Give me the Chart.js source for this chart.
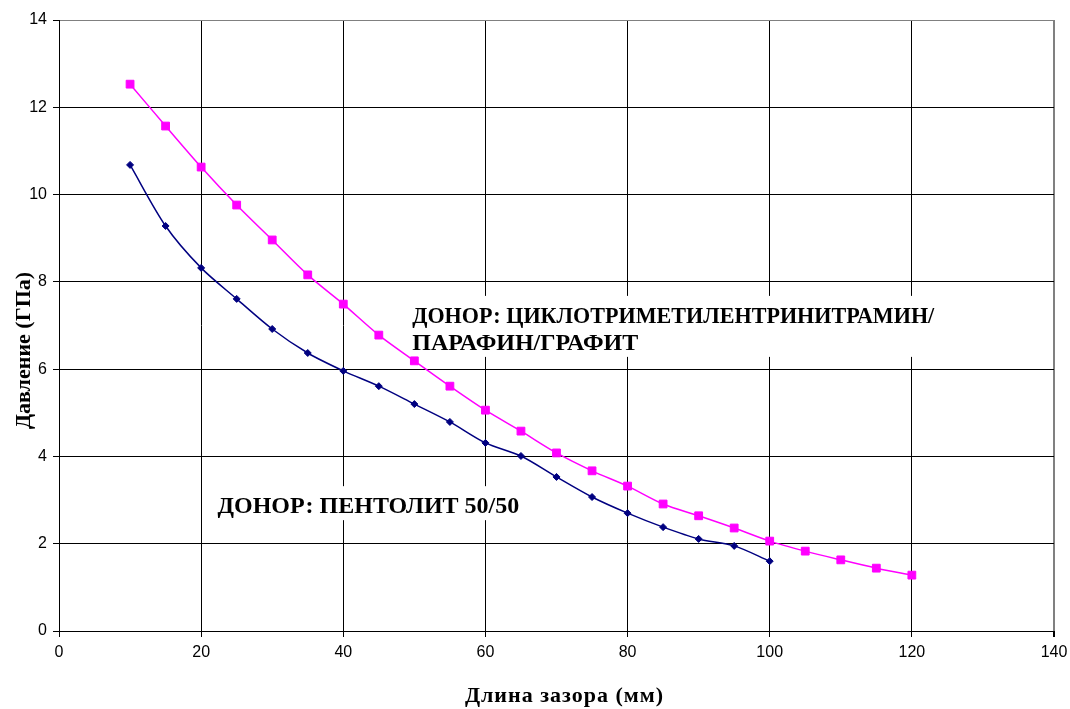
<!DOCTYPE html>
<html>
<head>
<meta charset="utf-8">
<script src="https://cdn.jsdelivr.net/npm/chart.js@4"></script>
<style>
  body { margin: 0; background: #fff; }
</style>
</head>
<body>
<canvas id="chart" width="1070" height="709"></canvas>
<script>
// gap length (mm) and pressure (GPa)
const gapHmx = [10, 15, 20, 25, 30, 35, 40, 45, 50, 55, 60, 65, 70, 75, 80, 85, 90, 95, 100, 105, 110, 115, 120];
const pressureHmx = [12.53, 11.57, 10.63, 9.76, 8.96, 8.16, 7.49, 6.78, 6.19, 5.61, 5.06, 4.58, 4.08, 3.67, 3.32, 2.91, 2.64, 2.36, 2.06, 1.83, 1.63, 1.44, 1.28];

const gapPentolite = [10, 15, 20, 25, 30, 35, 40, 45, 50, 55, 60, 65, 70, 75, 80, 85, 90, 95, 100];
const pressurePentolite = [10.68, 9.28, 8.32, 7.61, 6.92, 6.37, 5.96, 5.61, 5.20, 4.79, 4.31, 4.01, 3.53, 3.07, 2.70, 2.38, 2.11, 1.95, 1.60];

const xTitle = 'Длина зазора (мм)';
const yTitle = 'Давление (ГПа)';

// text labels placed in data units (x, baseline y)
const notes = [
  { lines: ['ДОНОР: ЦИКЛОТРИМЕТИЛЕНТРИНИТРАМИН/', 'ПАРАФИН/ГРАФИТ'], x: 49.7, y: 7.06 },
  { lines: ['ДОНОР: ПЕНТОЛИТ 50/50'], x: 22.3, y: 2.70 }
];

const toPoints = (xs, ys) => xs.map((x, i) => ({ x: x, y: ys[i] }));

const serif = '"Liberation Serif", "Times New Roman", serif';
const sans = '"Liberation Sans", Arial, sans-serif';

// the long first line is set tighter in the original
const lineMaxWidth = 522;

// white boxed notes, drawn over the grid but under the lines
const notesPlugin = {
  id: 'notes',
  beforeDatasetsDraw(chart) {
    const { ctx, scales } = chart;
    ctx.save();
    ctx.font = 'bold 24px ' + serif;
    ctx.textBaseline = 'alphabetic';
    notes.forEach(n => {
      const px = scales.x.getPixelForValue(n.x);
      const py = scales.y.getPixelForValue(n.y);
      const w = Math.min(lineMaxWidth, Math.max(...n.lines.map(l => ctx.measureText(l).width)));
      const h = 27 * (n.lines.length - 1);
      ctx.fillStyle = '#fff';
      ctx.fillRect(px - 8, py - 27, w + 16, h + 34);
      ctx.fillStyle = '#000';
      n.lines.forEach((l, i) => ctx.fillText(l, px, py + i * 27, lineMaxWidth));
    });
    ctx.restore();
  },
  afterDraw(chart) {
    const { ctx, chartArea } = chart;
    ctx.save();
    ctx.fillStyle = '#000';
    ctx.font = 'bold 22px ' + serif;
    ctx.textAlign = 'center';
    ctx.textBaseline = 'alphabetic';
    ctx.letterSpacing = '1px';
    ctx.fillText(xTitle, (chartArea.left + chartArea.right) / 2 + 8, 702);
    ctx.letterSpacing = '0px';
    ctx.translate(30, (chartArea.top + chartArea.bottom) / 2 + 25);
    ctx.rotate(-Math.PI / 2);
    ctx.fillText(yTitle, 0, 0);
    ctx.restore();
  }
};

new Chart(document.getElementById('chart'), {
  type: 'line',
  data: {
    datasets: [
      {
        label: 'Циклотриметилентринитрамин/парафин/графит',
        data: toPoints(gapHmx, pressureHmx),
        borderColor: '#ff00ff',
        backgroundColor: '#ff00ff',
        borderWidth: 1.5,
        pointStyle: 'rect',
        pointRadius: 5.5,
        pointBorderWidth: 1,
        tension: 0.3,
        fill: false
      },
      {
        label: 'Пентолит 50/50',
        data: toPoints(gapPentolite, pressurePentolite),
        borderColor: '#000080',
        backgroundColor: '#000080',
        borderWidth: 1.5,
        pointStyle: 'rectRot',
        pointRadius: 3.5,
        pointBorderWidth: 1,
        tension: 0.3,
        fill: false
      }
    ]
  },
  options: {
    responsive: false,
    animation: false,
    layout: { padding: { top: 20, right: 16, left: 0, bottom: 0 } },
    plugins: {
      legend: { display: false },
      tooltip: { enabled: false }
    },
    scales: {
      x: {
        type: 'linear',
        min: 0,
        max: 140,
        ticks: { stepSize: 20, color: '#000', font: { family: sans, size: 16 }, padding: 6 },
        grid: {
          color: c => c.tick && c.tick.value === 140 ? '#808080' : '#000',
          lineWidth: c => c.tick && c.tick.value === 140 ? 2 : 1,
          tickLength: 6,
          tickColor: '#000'
        },
        border: { color: '#000', width: 1 },
        afterFit: s => { s.height = 78; s.paddingRight = 0; s.paddingLeft = 0; }
      },
      y: {
        type: 'linear',
        min: 0,
        max: 14,
        ticks: { stepSize: 2, color: '#000', font: { family: sans, size: 16 }, padding: 6 },
        grid: {
          color: c => c.tick && c.tick.value === 14 ? '#808080' : '#000',
          tickLength: 6,
          tickColor: '#000'
        },
        border: { color: '#000', width: 1 },
        afterFit: s => { s.width = 59; s.paddingTop = 0; s.paddingBottom = 0; }
      }
    }
  },
  plugins: [notesPlugin]
});
</script>
</body>
</html>
